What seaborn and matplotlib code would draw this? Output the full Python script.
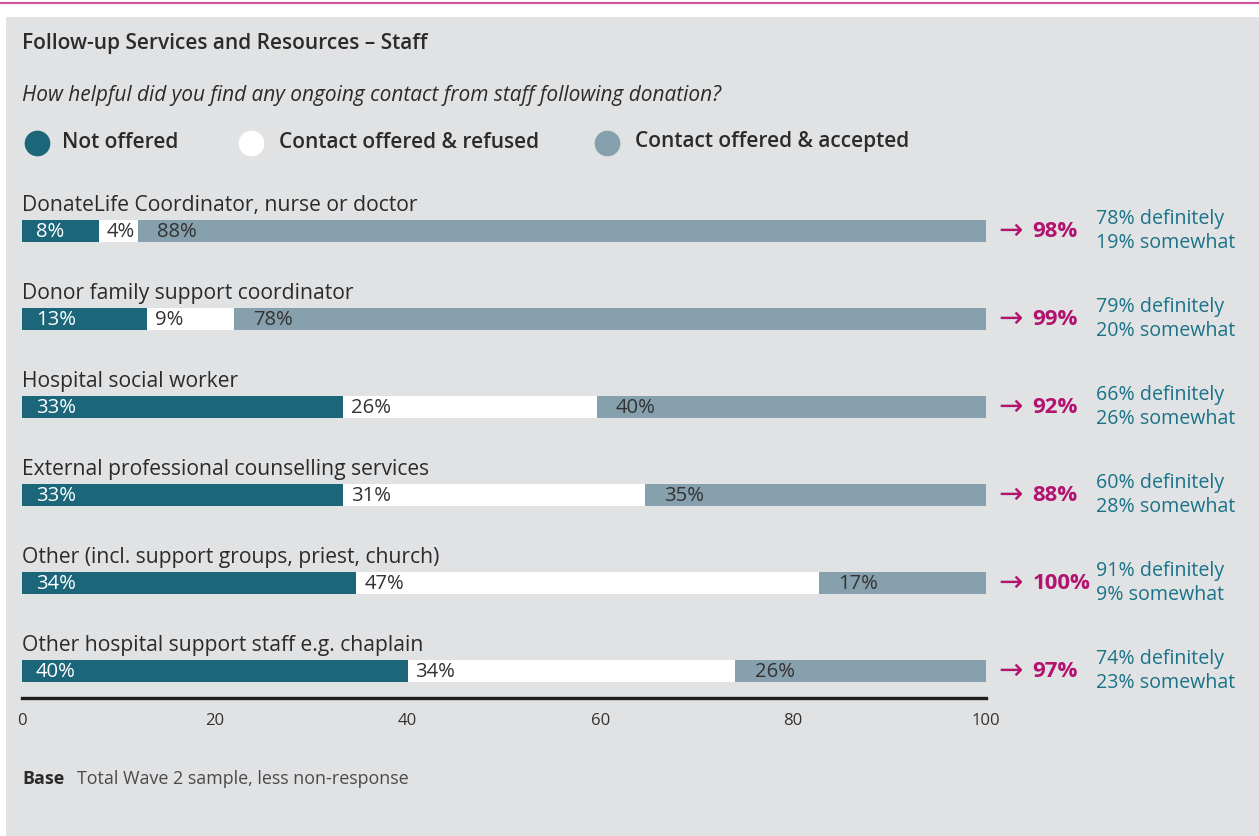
import matplotlib
matplotlib.use("Agg")
import matplotlib.pyplot as plt
from matplotlib.lines import Line2D
from matplotlib.patches import Rectangle
import numpy as np
import pandas as pd
import seaborn as sns

categories = [
    "DonateLife Coordinator, nurse or doctor",
    "Donor family support coordinator",
    "Hospital social worker",
    "External professional counselling services",
    "Other (incl. support groups, priest, church)",
    "Other hospital support staff e.g. chaplain",
]
not_offered = [8, 13, 33, 33, 34, 40]
offered_refused = [4, 9, 26, 31, 47, 34]
offered_accepted = [88, 78, 40, 35, 17, 26]
helpful_total = [98, 99, 92, 88, 100, 97]
definitely = [78, 79, 66, 60, 91, 74]
somewhat = [19, 20, 26, 28, 9, 23]
series_names = ["Not offered", "Contact offered & refused", "Contact offered & accepted"]
ticks = [0, 20, 40, 60, 80, 100]

TEAL = "#1b6679"
WHITE = "#ffffff"
STEEL = "#87a0ad"
BG = "#e1e2e4"
MAGENTA = "#b3126f"
TEAL_TEXT = "#1a7389"
DARK = "#2b2b2b"
colors = [TEAL, WHITE, STEEL]

sns.set_theme(style="white")
plt.rcParams["font.family"] = ["Open Sans", "DejaVu Sans"]

W, H = 1259, 836
fig = plt.figure(figsize=(W / 100, H / 100), dpi=100)
fig.patch.set_facecolor("white")

# grey panel and magenta rule at the top
fig.add_artist(Rectangle((6 / W, 0), 1, 1 - 17 / H, transform=fig.transFigure,
                         facecolor=BG, edgecolor="none", zorder=0))
fig.add_artist(Line2D([0, 1], [1 - 3 / H, 1 - 3 / H], transform=fig.transFigure,
                      color="#c9559c", lw=1.6))

# axes: x=0 at px 22, x=100 at px 986; rows every 88 px starting at px 231
x0, x1 = 22, 986
row0, step = 231, 88
y_top_px, y_bot_px = row0 - 0.5 * step, 698
ax = fig.add_axes([x0 / W, 1 - y_bot_px / H, (x1 - x0) / W, (y_bot_px - y_top_px) / H])
ax.set_facecolor("none")

# stacked segments, each row scaled to its own total so bars span the full width
vals = np.array([not_offered, offered_refused, offered_accepted], dtype=float)
totals = vals.sum(axis=0)
cum = np.cumsum(vals, axis=0) / totals * 100
starts = np.vstack([np.zeros(len(categories)), cum[:-1]])

for k in [2, 1, 0]:
    df = pd.DataFrame({"category": categories, "end": cum[k]})
    sns.barplot(data=df, x="end", y="category", color=colors[k], saturation=1,
                width=0.25, orient="h", errorbar=None, linewidth=0, ax=ax)

ax.set_xlim(0, 100)
ax.set_ylim((y_bot_px - row0) / step, -0.5)

# segment value labels
pads = [1.45, 0.8, 2.0]
for i in range(len(categories)):
    for k in range(3):
        ax.text(starts[k, i] + pads[k], i + 0.01, f"{int(vals[k, i])}%", ha="left",
                va="center", fontsize=14.6, color="white" if k == 0 else "#333333")
    # category name above each bar
    ax.text(0, i - 0.295, categories[i], ha="left", va="center", fontsize=15.2, color=DARK)
    # summary on the right
    ax.text(101.3, i + 0.01, "\u2192", ha="left", va="center", fontsize=21, color=MAGENTA,
            clip_on=False)
    ax.text(104.8, i + 0.01, f"{helpful_total[i]}%", ha="left", va="center", fontsize=16,
            fontweight="bold", color=MAGENTA, clip_on=False)
    ax.text(111.4, i - 0.135, f"{definitely[i]}% definitely", ha="left", va="center",
            fontsize=14.1, color=TEAL_TEXT, clip_on=False)
    ax.text(111.4, i + 0.14, f"{somewhat[i]}% somewhat", ha="left", va="center",
            fontsize=14.1, color=TEAL_TEXT, clip_on=False)

ax.set_xticks(ticks)
ax.set_xticklabels([str(t) for t in ticks], fontsize=12, color="#333333")
ax.tick_params(axis="x", length=0, pad=11)
ax.set_yticks([])
ax.set_xlabel("")
ax.set_ylabel("")
for s in ["top", "right", "left"]:
    ax.spines[s].set_visible(False)
ax.spines["bottom"].set_color("#1e1e1e")
ax.spines["bottom"].set_linewidth(2.4)

# titles
fig.text(22 / W, 1 - 44 / H, "Follow-up Services and Resources \u2013 Staff", ha="left",
         va="center", fontsize=15, fontweight="semibold", color=DARK)
fig.text(22 / W, 1 - 96 / H,
         "How helpful did you find any ongoing contact from staff following donation?",
         ha="left", va="center", fontsize=15, style="italic", color=DARK)

# legend
leg_circle_x = [37, 251, 607]
leg_text_x = [62, 279, 635]
for cx, tx, c, name in zip(leg_circle_x, leg_text_x, colors, series_names):
    fig.add_artist(Line2D([cx / W], [1 - 143 / H], transform=fig.transFigure, marker="o",
                          markersize=18.5, markerfacecolor=c, markeredgewidth=0,
                          linestyle="none"))
    fig.text(tx / W, 1 - 142 / H, name, ha="left", va="center", fontsize=15,
             fontweight="semibold", color=DARK)

# base note
fig.text(22 / W, 1 - 779 / H, "Base", ha="left", va="center", fontsize=12.9,
         fontweight="bold", color=DARK)
fig.text(77 / W, 1 - 779 / H, "Total Wave 2 sample, less non-response", ha="left",
         va="center", fontsize=12.9, color="#4a4a4a")

fig.savefig("out.png", dpi=100, facecolor=fig.get_facecolor())
